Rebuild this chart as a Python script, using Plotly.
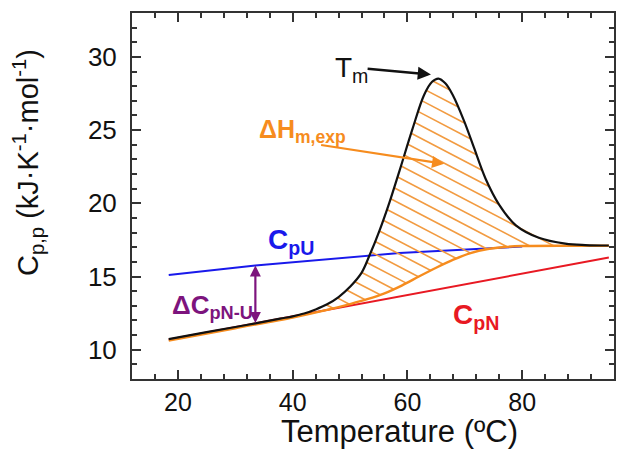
import numpy as np
import plotly.graph_objects as go

# ---------------- data ----------------
temp_dsc = [18.4, 25.0, 30.0, 33.5, 37.8, 40.0, 42.0, 44.0, 46.0, 48.0, 50.0, 52.0,
            53.4, 55.1, 56.9, 58.6, 60.9, 62.9, 64.3, 65.4, 66.6, 67.9, 69.9, 71.6,
            73.6, 76.0, 78.9, 82.9, 87.5, 91.0, 95.1]
cp_dsc = [10.72, 11.2, 11.55, 11.8, 12.12, 12.28, 12.47, 12.75, 13.1, 13.6, 14.3, 15.25,
          16.45, 18.1, 20.1, 22.2, 25.1, 27.4, 28.3, 28.52, 28.2, 27.4, 25.6, 23.8,
          21.7, 19.9, 18.5, 17.65, 17.25, 17.15, 17.12]

temp_base = [18.4, 30.0, 40.0, 46.0, 50.0, 53.0, 56.0, 59.0, 62.0, 65.0, 68.0, 71.0,
             74.0, 77.0, 80.0, 88.0, 95.1]
cp_base = [10.62, 11.47, 12.2, 12.72, 13.12, 13.45, 13.85, 14.38, 15.0, 15.6, 16.15, 16.6,
           16.88, 17.02, 17.08, 17.1, 17.1]

temp_cpn = [18.4, 95.1]
cp_cpn = [10.7, 16.3]

temp_cpu = [18.4, 33.5, 58.6, 80.0]
cp_cpu = [15.1, 15.75, 16.6, 17.05]

x_ticks = [20, 40, 60, 80]
y_ticks = [10, 15, 20, 25, 30]

delta_cp_temp = 33.5          # where the ΔCp arrow is drawn
tm_temp, tm_cp = 64.1, 28.8   # Tm arrow head
tm_tail = (52.8, 29.2)
dh_head = (66.4, 22.7)        # ΔH arrow head
dh_tail = (44.7, 24.0)

# ---------------- style / layout constants ----------------
W, H = 617, 465
M = dict(l=132, r=1, t=13, b=86)
X_RANGE = [12, 96]
Y_RANGE = [8, 33]
FONT = "Arial, 'Liberation Sans', Helvetica, sans-serif"
BLACK = "#111111"
BLUE = "rgb(25,25,235)"
RED = "rgb(232,25,35)"
ORANGE = "rgb(246,140,30)"
HATCH = "rgb(242,155,65)"
PURPLE = "rgb(125,20,125)"
AXIS = "#333333"

fig = go.Figure()

# ---------------- hatch lines inside the ΔH area ----------------
plot_w = W - M["l"] - M["r"]
plot_h = H - M["t"] - M["b"]
px_x = plot_w / (X_RANGE[1] - X_RANGE[0])
px_y = plot_h / (Y_RANGE[1] - Y_RANGE[0])
hatch_slope_px = 0.52      # pixel slope (down to the right)
hatch_gap_px = 12.7        # vertical spacing in px
k = -hatch_slope_px * px_x / px_y
gap = hatch_gap_px / px_y

tg = np.linspace(temp_base[0], temp_base[-1], 4000)
lo = np.interp(tg, temp_base, cp_base)
hi = np.interp(tg, temp_dsc, cp_dsc)
cmin = float(np.min(lo - k * tg))
cmax = float(np.max(hi - k * tg))
hx, hy = [], []
c = cmin + 0.3 * gap
while c < cmax:
    yl = c + k * tg
    inside = (yl >= lo) & (yl <= hi) & ((hi - lo) > 0.08)
    idx = np.where(inside)[0]
    if idx.size:
        runs = np.split(idx, np.where(np.diff(idx) > 1)[0] + 1)
        for r in runs:
            a, b = r[0], r[-1]
            length = np.hypot((tg[b] - tg[a]) * px_x, (yl[b] - yl[a]) * px_y)
            if length > 4:
                hx += [tg[a], tg[b], None]
                hy += [yl[a], yl[b], None]
    c += gap

fig.add_trace(go.Scatter(x=temp_cpu, y=cp_cpu, mode="lines",
                         line=dict(color=BLUE, width=2), hoverinfo="skip"))
fig.add_trace(go.Scatter(x=temp_cpn, y=cp_cpn, mode="lines",
                         line=dict(color=RED, width=2), hoverinfo="skip"))
fig.add_trace(go.Scatter(x=hx, y=hy, mode="lines",
                         line=dict(color=HATCH, width=1.6), hoverinfo="skip"))
fig.add_trace(go.Scatter(x=temp_base, y=cp_base, mode="lines",
                         line=dict(color=ORANGE, width=2.4, shape="spline", smoothing=0.8),
                         hoverinfo="skip"))
fig.add_trace(go.Scatter(x=temp_dsc, y=cp_dsc, mode="lines",
                         line=dict(color=BLACK, width=2.2, shape="spline"),
                         hoverinfo="skip"))

# ---------------- arrows ----------------
cp_u_at = float(np.interp(delta_cp_temp, temp_cpu, cp_cpu))
cp_b_at = float(np.interp(delta_cp_temp, temp_base, cp_base))
fig.add_annotation(x=delta_cp_temp, y=cp_u_at, ax=delta_cp_temp, ay=cp_b_at,
                   xref="x", yref="y", axref="x", ayref="y", text="",
                   showarrow=True, arrowhead=2, startarrowhead=2, arrowside="end+start",
                   arrowsize=1.0, startarrowsize=1.0, arrowwidth=2.2, arrowcolor=PURPLE,
                   standoff=0, startstandoff=0)
fig.add_annotation(x=tm_temp, y=tm_cp, ax=tm_tail[0], ay=tm_tail[1],
                   xref="x", yref="y", axref="x", ayref="y", text="",
                   showarrow=True, arrowhead=2, arrowsize=1.1, arrowwidth=2.4,
                   arrowcolor=BLACK, standoff=0)
fig.add_annotation(x=dh_head[0], y=dh_head[1], ax=dh_tail[0], ay=dh_tail[1],
                   xref="x", yref="y", axref="x", ayref="y", text="",
                   showarrow=True, arrowhead=2, arrowsize=1.1, arrowwidth=2.2,
                   arrowcolor=ORANGE, standoff=0)

# ---------------- labels ----------------
def label(text, x, y, color, size, bold=True):
    t = f"<b>{text}</b>" if bold else text
    fig.add_annotation(x=x, y=y, xref="x", yref="y", text=t, showarrow=False,
                       xanchor="left", yanchor="top",
                       font=dict(family=FONT, size=size, color=color))

label("T<sub>m</sub>", 47.0, 30.45, BLACK, 28, bold=False)
label("ΔH<sub>m,exp</sub>", 33.8, 26.2, ORANGE, 25)
label("C<sub>pU</sub>", 35.3, 18.7, BLUE, 28)
label("ΔC<sub>pN-U</sub>", 18.6, 14.2, PURPLE, 26)
label("C<sub>pN</sub>", 67.6, 13.6, RED, 28)

# axis titles
fig.add_annotation(xref="paper", yref="paper", x=0.554, y=0, yanchor="middle",
                   yshift=-52, text="Temperature (ºC)", showarrow=False,
                   font=dict(family=FONT, size=31, color=BLACK))
fig.add_annotation(xref="paper", yref="paper", x=0, y=0.59, xanchor="center",
                   yanchor="middle", xshift=-104, textangle=-90,
                   text="C<sub>p,p</sub> (kJ·K<sup>-1</sup>·mol<sup>-1</sup>)",
                   showarrow=False, font=dict(family=FONT, size=29, color=BLACK))

axis_common = dict(showline=True, linewidth=2, linecolor=AXIS, mirror="ticks",
                   ticks="inside", ticklen=9, tickwidth=2, tickcolor=AXIS,
                   showgrid=False, zeroline=False)
fig.update_xaxes(range=X_RANGE, tickvals=x_ticks, ticktext=[str(v) for v in x_ticks],
                 tickfont=dict(family=FONT, size=25, color=BLACK),
                 minor=dict(dtick=4, tick0=0, ticks="inside", ticklen=5,
                            tickwidth=1.5, tickcolor=AXIS, showgrid=False),
                 **axis_common)
fig.update_yaxes(range=Y_RANGE, tickvals=y_ticks, ticktext=[str(v) for v in y_ticks],
                 tickfont=dict(family=FONT, size=26, color=BLACK),
                 minor=dict(dtick=1, tick0=0, ticks="inside", ticklen=5,
                            tickwidth=1.5, tickcolor=AXIS, showgrid=False),
                 ticklabelstandoff=8, **axis_common)

fig.update_layout(width=W, height=H, margin=M, showlegend=False,
                  plot_bgcolor="white", paper_bgcolor="white",
                  font=dict(family=FONT))

fig.write_html("out.html")
